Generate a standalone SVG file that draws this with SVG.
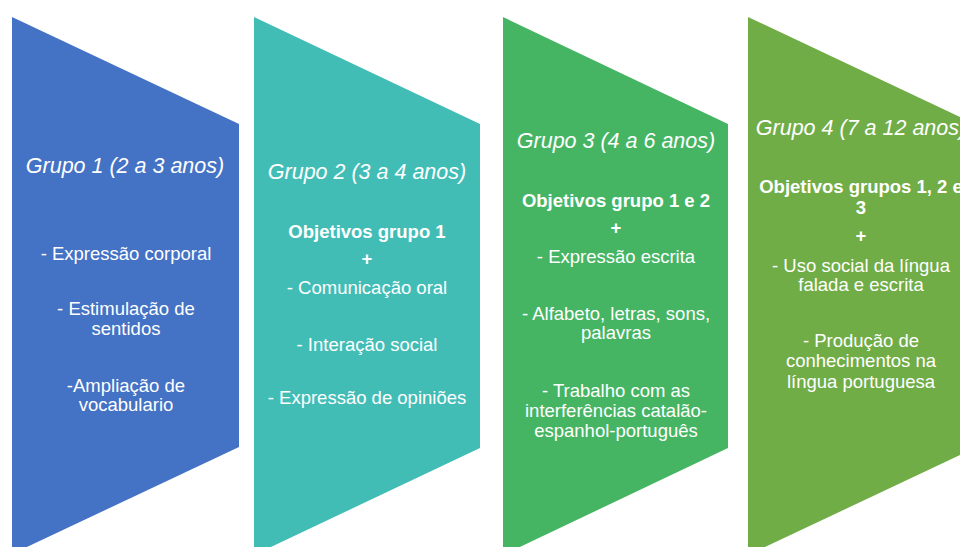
<svg xmlns="http://www.w3.org/2000/svg" width="960" height="547" viewBox="0 0 960 547">
<style>
text{font-family:"Liberation Sans",Arial,sans-serif;fill:#fff;text-anchor:middle}
.t{font-size:21.5px;font-style:italic}
.b{font-size:18.5px}
.bb{font-size:18.5px;font-weight:bold}
</style>
<rect width="960" height="547" fill="#fff"/>
<g id="grupo1">
<polygon points="12,17 239,124 239,447 12,554" fill="#4472C4"/>
<text class="t" x="125" y="173">Grupo 1 (2 a 3 anos)</text>
<text class="b" x="126" y="260">- Expressão corporal</text>
<text class="b" x="126" y="315">- Estimulação de</text>
<text class="b" x="126" y="335">sentidos</text>
<text class="b" x="126" y="392">-Ampliação de</text>
<text class="b" x="126" y="411">vocabulario</text>
</g>
<g id="grupo2">
<polygon points="254,17 480,124 480,448 254,555" fill="#42BDB6"/>
<text class="t" x="367" y="179">Grupo 2 (3 a 4 anos)</text>
<text class="bb" x="367" y="238">Objetivos grupo 1</text>
<text class="bb" x="367" y="265">+</text>
<text class="b" x="367" y="294">- Comunicação oral</text>
<text class="b" x="367" y="351">- Interação social</text>
<text class="b" x="367" y="404">- Expressão de opiniões</text>
</g>
<g id="grupo3">
<polygon points="503,17 728,124 728,448 503,555" fill="#45B564"/>
<text class="t" x="616" y="148">Grupo 3 (4 a 6 anos)</text>
<text class="bb" x="616" y="207">Objetivos grupo 1 e 2</text>
<text class="bb" x="616" y="234">+</text>
<text class="b" x="616" y="263">- Expressão escrita</text>
<text class="b" x="616" y="320">- Alfabeto, letras, sons,</text>
<text class="b" x="616" y="339">palavras</text>
<text class="b" x="616" y="397">- Trabalho com as</text>
<text class="b" x="616" y="417">interferências catalão-</text>
<text class="b" x="616" y="437">espanhol-português</text>
</g>
<g id="grupo4">
<polygon points="748,17 975,124 975,448 748,555" fill="#70AD47"/>
<text class="t" x="861" y="135">Grupo 4 (7 a 12 anos)</text>
<text class="bb" x="861" y="193">Objetivos grupos 1, 2 e</text>
<text class="bb" x="861" y="214">3</text>
<text class="bb" x="861" y="242">+</text>
<text class="b" x="861" y="272">- Uso social da língua</text>
<text class="b" x="861" y="291">falada e escrita</text>
<text class="b" x="861" y="347">- Produção de</text>
<text class="b" x="861" y="367">conhecimentos na</text>
<text class="b" x="861" y="388">língua portuguesa</text>
</g>
<g id="connectors"/>
</svg>
